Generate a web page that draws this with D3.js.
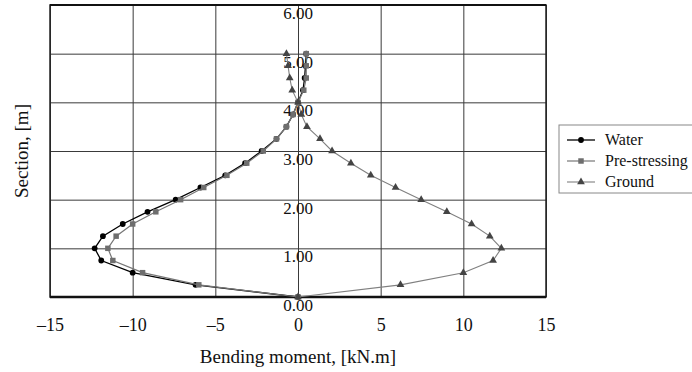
<!DOCTYPE html>
<html>
<head>
<meta charset="utf-8">
<script src="https://cdn.jsdelivr.net/npm/d3@7/dist/d3.min.js"></script>
<style>
body{margin:0;background:#fff;}
svg{display:block;}
svg text{font-family:"Liberation Serif","Times New Roman",serif;}
.grid line{stroke:#3a3a3a;stroke-width:1;}
.grid path{display:none;}
</style>
</head>
<body>
<script>
var width=692,height=372;

// section positions [m]
var sections = [0,0.25,0.5,0.75,1,1.25,1.5,1.75,2,2.25,2.5,2.75,3,3.25,3.5,3.75,4,4.25,4.5,4.75,5];
// bending moment [kN.m]
var water = [0,-6.2,-10.0,-11.9,-12.3,-11.8,-10.6,-9.1,-7.4,-5.9,-4.4,-3.2,-2.2,-1.3,-0.7,-0.3,0,0.3,0.4,0.45,0.5];
var prestress = [0,-6.0,-9.4,-11.2,-11.5,-11.0,-10.0,-8.6,-7.1,-5.7,-4.3,-3.1,-2.1,-1.3,-0.7,-0.3,0,0.35,0.5,0.5,0.5];
var ground = [0,6.2,10.0,11.8,12.3,11.6,10.5,9.0,7.45,5.9,4.4,3.2,2.06,1.33,0.54,0.2,0,-0.35,-0.5,-0.6,-0.7];

var xTicks = [-15,-10,-5,0,5,10,15];
var yTicks = [0,1,2,3,4,5,6];

var svg = d3.select("body").append("svg")
	.attr("width", width)
	.attr("height", height);

var x = d3.scaleLinear().domain([-15,15]).range([50,546]);
var y = d3.scaleLinear().domain([0,6]).range([297,5]);

// grid
svg.append("g")
	.attr("class","grid")
	.attr("transform","translate(0,"+y(0)+")")
	.call(d3.axisBottom(x).tickValues(xTicks).tickSize(-(y(0)-y(6))).tickFormat(""));
svg.append("g")
	.attr("class","grid")
	.attr("transform","translate("+x(-15)+",0)")
	.call(d3.axisLeft(y).tickValues(yTicks).tickSize(-(x(15)-x(-15))).tickFormat(""));

// frame
svg.append("rect")
	.attr("x", x(-15)).attr("y", y(6))
	.attr("width", x(15)-x(-15)).attr("height", y(0)-y(6))
	.attr("fill","none").attr("stroke","#222").attr("stroke-width",1.5);
svg.append("line")
	.attr("x1", x(-15)).attr("x2", x(15))
	.attr("y1", y(0)).attr("y2", y(0))
	.attr("stroke","#111").attr("stroke-width",2.5);
svg.append("line")
	.attr("x1", x(-15)).attr("x2", x(15))
	.attr("y1", y(6)).attr("y2", y(6))
	.attr("stroke","#111").attr("stroke-width",2);

// x axis labels
var xAxis = svg.append("g")
	.attr("transform","translate(0,"+y(0)+")")
	.call(d3.axisBottom(x).tickValues(xTicks).tickSize(0).tickPadding(34)
		.tickFormat(function(d){ return d<0 ? "\u2013"+Math.abs(d) : d; }));
xAxis.attr("font-family", null).attr("font-size", null);
xAxis.select(".domain").remove();
xAxis.selectAll("text")
	.attr("dy", 0)
	.attr("font-size", 18)
	.attr("fill","#111");

// y labels sit on the zero line
svg.append("g").selectAll("text")
	.data(yTicks)
	.enter().append("text")
	.attr("x", x(0))
	.attr("y", function(d){ return y(d)+14; })
	.attr("text-anchor","middle")
	.attr("font-size", 17)
	.attr("fill","#111")
	.text(function(d){ return d.toFixed(2); });

// series
var series = [
	{name:"Water", values:water, color:"#000", mark:"#000", width:1.3, shape:d3.symbolCircle, size:26},
	{name:"Pre-stressing", values:prestress, color:"#777", mark:"#6e6e6e", width:1.2, shape:d3.symbolSquare, size:30},
	{name:"Ground", values:ground, color:"#808080", mark:"#444", width:1.1, shape:d3.symbolTriangle, size:26}
];

var line = d3.line()
	.x(function(d){ return x(d[0]); })
	.y(function(d){ return y(d[1]); });

series.forEach(function(s){
	var pts = s.values.map(function(v,i){ return [v, sections[i]]; });
	svg.append("path")
		.datum(pts)
		.attr("d", line)
		.attr("fill","none")
		.attr("stroke", s.color)
		.attr("stroke-width", s.width);
	svg.append("g").selectAll("path")
		.data(pts)
		.enter().append("path")
		.attr("transform", function(d){ return "translate("+x(d[0])+","+y(d[1])+")"; })
		.attr("d", d3.symbol().type(s.shape).size(s.size))
		.attr("fill", s.mark);
});

// axis titles
svg.append("text")
	.attr("x", x(0))
	.attr("y", 363)
	.attr("text-anchor","middle")
	.attr("font-size", 19)
	.attr("fill","#111")
	.text("Bending moment, [kN.m]");
svg.append("text")
	.attr("transform","translate(28,"+((y(0)+y(6))/2)+") rotate(-90)")
	.attr("text-anchor","middle")
	.attr("font-size", 19)
	.attr("fill","#111")
	.text("Section, [m]");

// legend
var legend = svg.append("g");
legend.append("rect")
	.attr("x", 559).attr("y", 125)
	.attr("width", 150).attr("height", 68)
	.attr("fill","#fff").attr("stroke","#888").attr("stroke-width",1);
var item = legend.selectAll("g.item")
	.data(series)
	.enter().append("g")
	.attr("class","item")
	.attr("transform", function(d,i){ return "translate(567,"+(140+i*21)+")"; });
item.append("line")
	.attr("x1",0).attr("x2",28)
	.attr("stroke", function(d){ return d.color; })
	.attr("stroke-width", function(d){ return d.width; });
item.append("path")
	.attr("transform","translate(14,0)")
	.attr("d", function(d){ return d3.symbol().type(d.shape).size(d.size)(); })
	.attr("fill", function(d){ return d.mark; });
item.append("text")
	.attr("x", 38)
	.attr("y", 5)
	.attr("font-size", 16)
	.attr("fill","#111")
	.text(function(d){ return d.name; });
</script>
</body>
</html>
